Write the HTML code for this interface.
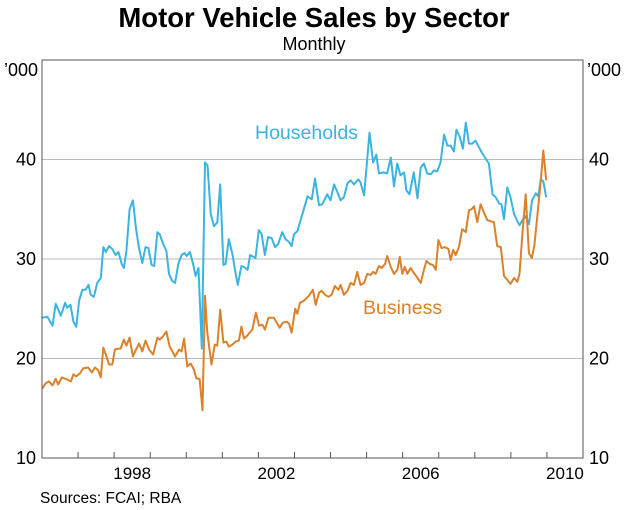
<!DOCTYPE html>
<html><head><meta charset="utf-8"><style>
body{margin:0;background:#fff}
svg{display:block;font-family:"Liberation Sans",Arial,sans-serif}
</style></head><body>
<svg id="chart" width="625" height="510" viewBox="0 0 625 510">
<text x="314" y="27" text-anchor="middle" font-size="27.5" font-weight="bold">Motor Vehicle Sales by Sector</text>
<text x="314" y="50" text-anchor="middle" font-size="18">Monthly</text>
<text x="4" y="76" font-size="18">’000</text>
<text x="587" y="76" font-size="18">’000</text>
<g id="grid"></g>
<g id="ticks"></g>
<g id="series"></g>
<rect x="42" y="60" width="541" height="398" fill="none" stroke="#555" stroke-width="1"/>
<text x="255" y="139" font-size="19.5" fill="#3bb4e0">Households</text>
<text x="363" y="314" font-size="19.5" fill="#d9812b">Business</text>
<text x="40" y="503" font-size="15.5">Sources: FCAI; RBA</text>
</svg>
<script>
const yTicks=[10,20,30,40];
const yearLabels=[1998,2002,2006,2010];
const hhDates=[1996.01,1996.15,1996.29,1996.38,1996.52,1996.64,1996.70,1996.79,1996.87,1996.95,1997.03,1997.12,1997.21,1997.29,1997.35,1997.44,1997.53,1997.63,1997.70,1997.77,1997.86,1997.95,1998.04,1998.12,1998.21,1998.27,1998.34,1998.43,1998.52,1998.61,1998.69,1998.78,1998.87,1998.95,1999.04,1999.11,1999.20,1999.26,1999.36,1999.45,1999.52,1999.61,1999.69,1999.78,1999.87,1999.95,2000.01,2000.10,2000.19,2000.26,2000.34,2000.43,2000.52,2000.59,2000.68,2000.77,2000.86,2000.94,2001.03,2001.09,2001.18,2001.28,2001.35,2001.43,2001.53,2001.60,2001.70,2001.77,2001.92,2002.01,2002.09,2002.18,2002.27,2002.37,2002.46,2002.55,2002.66,2002.75,2002.85,2002.92,2002.99,2003.08,2003.22,2003.36,2003.48,2003.57,2003.68,2003.77,2003.91,2004.00,2004.10,2004.19,2004.28,2004.37,2004.47,2004.56,2004.65,2004.77,2004.83,2004.93,2005.08,2005.18,2005.27,2005.34,2005.48,2005.57,2005.67,2005.76,2005.85,2005.94,2006.04,2006.10,2006.19,2006.31,2006.41,2006.50,2006.59,2006.68,2006.78,2006.87,2006.96,2007.05,2007.15,2007.24,2007.33,2007.42,2007.49,2007.58,2007.67,2007.75,2007.84,2007.93,2008.02,2008.12,2008.21,2008.30,2008.39,2008.49,2008.58,2008.67,2008.74,2008.81,2008.90,2008.99,2009.09,2009.18,2009.24,2009.34,2009.41,2009.50,2009.59,2009.69,2009.76,2009.83,2009.90,2009.98];
const hhValues=[24.1,24.2,23.3,25.5,24.3,25.6,25.1,25.4,23.7,23.2,25.8,26.9,26.9,27.4,26.4,26.2,27.6,28.1,31.2,30.7,31.3,31.0,30.4,30.7,29.5,29.1,30.8,35.0,35.9,33.0,31.1,29.6,31.2,31.1,29.4,29.3,32.7,32.5,31.5,30.8,28.5,27.8,27.6,29.5,30.4,30.6,30.3,30.7,29.5,28.3,29.1,21.0,39.7,39.4,34.5,33.3,33.7,37.5,29.4,29.5,32.0,30.5,28.9,27.4,29.3,29.2,28.9,30.4,30.1,32.9,32.5,30.4,32.2,32.1,31.2,31.5,32.7,32.0,31.7,31.3,32.5,32.8,34.5,36.3,36.0,38.1,35.4,35.5,36.5,35.9,37.5,36.7,35.9,36.2,37.6,37.9,37.5,38.0,37.7,36.4,42.7,39.7,40.5,38.6,38.7,38.6,40.2,37.3,39.6,38.4,38.7,36.9,36.5,38.7,36.1,39.2,39.6,38.6,38.5,38.9,38.8,39.7,42.5,41.4,41.4,40.8,43.0,42.3,41.1,43.7,41.6,41.6,41.9,41.2,40.6,40.1,39.6,36.5,36.2,35.6,35.5,34.0,37.2,36.2,34.5,33.8,33.4,34.0,34.3,33.5,35.9,36.6,36.3,38.0,37.8,36.2];
const bizDates=[1996.01,1996.10,1996.19,1996.29,1996.38,1996.45,1996.55,1996.66,1996.80,1996.87,1996.95,1997.05,1997.14,1997.28,1997.38,1997.47,1997.56,1997.63,1997.70,1997.77,1997.86,1997.95,1998.02,1998.12,1998.18,1998.27,1998.34,1998.43,1998.52,1998.62,1998.69,1998.78,1998.87,1998.97,1999.08,1999.20,1999.26,1999.35,1999.45,1999.54,1999.69,1999.80,1999.87,1999.94,2000.03,2000.12,2000.21,2000.28,2000.37,2000.45,2000.52,2000.58,2000.70,2000.79,2000.86,2000.94,2001.03,2001.11,2001.18,2001.28,2001.37,2001.46,2001.53,2001.60,2001.69,2001.83,2001.93,2002.02,2002.11,2002.18,2002.28,2002.43,2002.59,2002.68,2002.78,2002.85,2002.92,2003.02,2003.08,2003.15,2003.26,2003.40,2003.51,2003.59,2003.68,2003.75,2003.85,2003.94,2004.03,2004.12,2004.22,2004.28,2004.37,2004.47,2004.56,2004.65,2004.74,2004.83,2004.93,2005.02,2005.11,2005.18,2005.25,2005.34,2005.42,2005.51,2005.57,2005.67,2005.76,2005.85,2005.92,2005.99,2006.06,2006.13,2006.22,2006.31,2006.41,2006.50,2006.59,2006.66,2006.75,2006.84,2006.92,2006.99,2007.08,2007.17,2007.27,2007.33,2007.40,2007.47,2007.56,2007.65,2007.75,2007.84,2007.91,2007.98,2008.07,2008.16,2008.25,2008.35,2008.44,2008.53,2008.62,2008.72,2008.81,2008.90,2008.99,2009.09,2009.18,2009.24,2009.32,2009.41,2009.50,2009.58,2009.65,2009.73,2009.83,2009.90,2009.98];
const bizValues=[17.0,17.5,17.7,17.3,17.95,17.4,18.1,17.95,17.7,18.4,18.2,18.5,19.0,19.1,18.6,19.1,18.8,18.1,21.1,20.4,19.4,19.4,20.9,21.0,21.0,21.9,21.3,22.1,20.2,21.0,21.5,20.7,21.8,20.9,20.4,22.1,21.9,22.2,22.7,21.2,20.2,20.9,20.7,22.0,19.2,19.5,18.9,18.0,17.95,14.8,26.3,22.7,19.4,21.4,21.3,24.9,21.6,21.7,21.2,21.4,21.7,21.8,23.2,22.0,22.3,22.9,24.6,23.3,23.4,22.9,24.1,24.1,23.1,23.6,23.7,23.5,22.6,25.0,24.5,25.6,25.8,26.3,26.9,25.4,26.6,26.8,26.4,26.2,26.4,27.3,26.9,27.4,26.4,26.8,27.6,27.4,28.7,27.4,27.6,28.5,28.4,28.7,28.5,29.3,29.1,29.5,30.3,29.2,28.5,28.9,30.2,28.5,29.2,28.5,29.1,28.6,28.1,27.6,28.9,29.8,29.5,29.4,28.9,31.9,31.1,31.2,31.0,29.9,30.9,30.4,31.2,33.0,32.7,34.9,35.0,35.3,33.7,35.5,34.7,33.9,33.8,33.7,31.3,31.2,28.3,27.9,27.5,28.1,27.7,28.5,32.5,36.5,30.6,30.1,31.3,34.2,37.9,40.9,37.9];

const NS='http://www.w3.org/2000/svg';
const X0=42,X1=583,Y0=458,Y1=60,T0=1996,T1=2011,V0=10,V1=50;
function xs(t){return X0+(t-T0)/(T1-T0)*(X1-X0);}
function ys(v){return Y0-(v-V0)/(V1-V0)*(Y0-Y1);}
function mk(tag,attrs,parent){const e=document.createElementNS(NS,tag);for(const k in attrs)e.setAttribute(k,attrs[k]);parent.appendChild(e);return e;}
const grid=document.getElementById('grid'),ticks=document.getElementById('ticks'),series=document.getElementById('series');
yTicks.forEach(v=>{
  if(v>V0){const l=mk('line',{x1:X0,x2:X1,y1:ys(v),y2:ys(v),stroke:'#bbb','stroke-width':1},grid);
  
  }
  const a=mk('text',{x:X0-6,y:ys(v)+6,'text-anchor':'end','font-size':18},ticks);a.textContent=v;
  
  
  const b=mk('text',{x:X1+6,y:ys(v)+6,'font-size':18},ticks);b.textContent=v;
  
  
});
for(let y=T0+1;y<T1;y++){
  const t=mk('line',{x1:xs(y),x2:xs(y),y1:Y0,y2:Y0-6,stroke:'#555','stroke-width':1},ticks);
  
  
}
yearLabels.forEach(y=>{
  const t=mk('text',{x:xs(y+0.5),y:Y0+21,'text-anchor':'middle','font-size':17},ticks);t.textContent=y;
  
  
});
function line(dates,vals,color,name){
  const d=dates.map((t,i)=>(i?'L':'M')+xs(t).toFixed(1)+','+ys(vals[i]).toFixed(1)).join('');
  const p=mk('path',{d:d,fill:'none',stroke:color,'stroke-width':2,'stroke-linejoin':'round'},series);
  
  
}
line(hhDates,hhValues,'#3bb4e0','households-line');
line(bizDates,bizValues,'#d9812b','business-line');
</script>
</body></html>
